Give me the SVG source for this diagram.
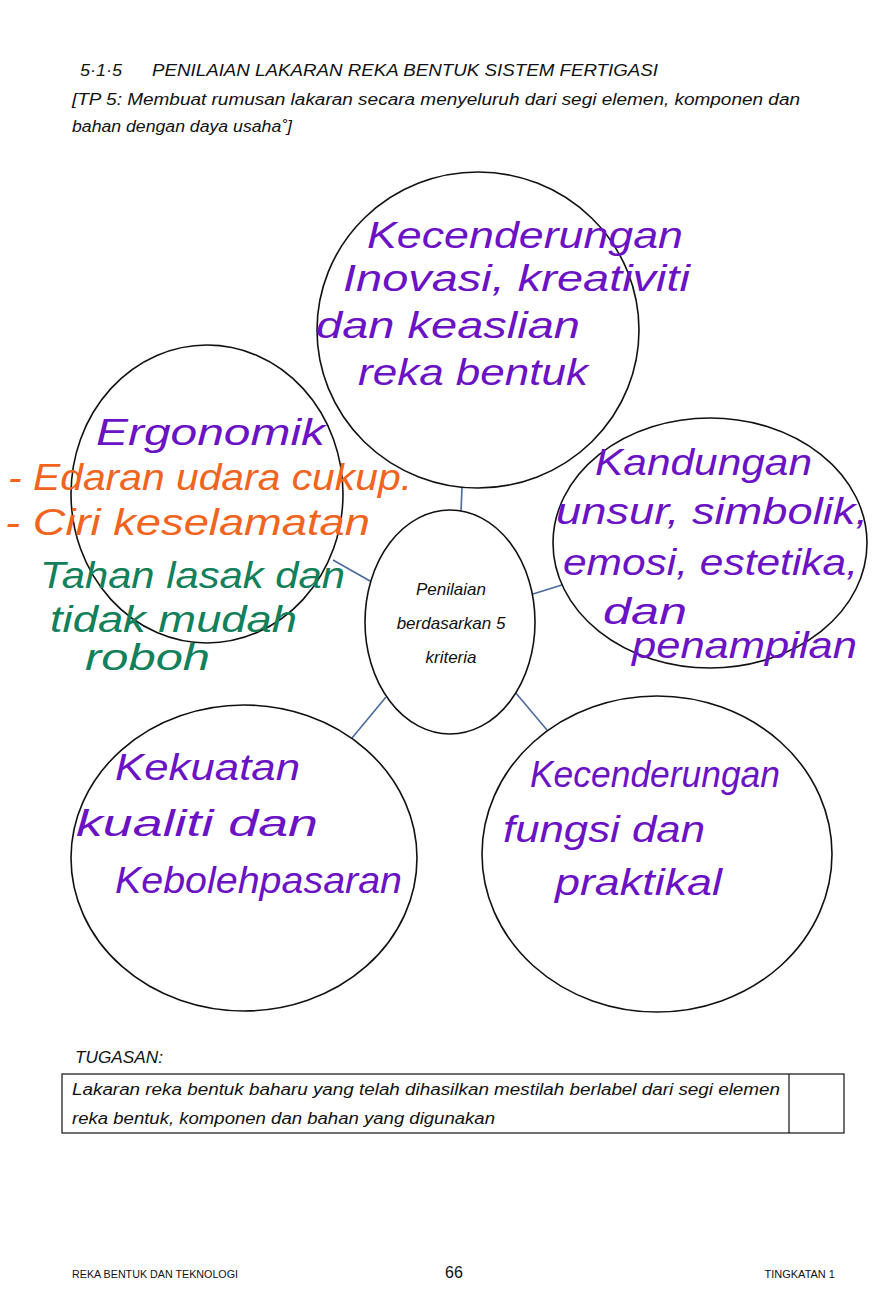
<svg xmlns="http://www.w3.org/2000/svg" width="889" height="1313" viewBox="0 0 889 1313">
<style>
.hd{font-family:"Liberation Sans",Arial,sans-serif;font-style:italic;font-size:16px;fill:#111}
.node{fill:#fff;stroke:#111;stroke-width:1.6}
.conn{stroke:#4a6a9c;stroke-width:1.6;fill:none}
.hw{font-family:"Liberation Sans",Arial,sans-serif;font-style:italic;font-size:36px}
.pu{fill:#6a12c4}
.or{fill:#f0641e}
.gr{fill:#12805a}
.ctr{font-family:"Liberation Sans",Arial,sans-serif;font-style:italic;font-size:17px;fill:#111;text-anchor:middle}
.ft{font-family:"Liberation Sans",Arial,sans-serif;font-size:11px;fill:#111}
</style>
<rect width="889" height="1313" fill="#fff"/>
<g id="header">
<text class="hd" x="80" y="76" textLength="42" lengthAdjust="spacingAndGlyphs">5·1·5</text>
<text class="hd" x="152" y="76" textLength="506" lengthAdjust="spacingAndGlyphs">PENILAIAN LAKARAN REKA BENTUK SISTEM FERTIGASI</text>
<text class="hd" x="72" y="105" textLength="728" lengthAdjust="spacingAndGlyphs">[TP 5: Membuat rumusan lakaran secara menyeluruh dari segi elemen, komponen dan</text>
<text class="hd" x="72" y="132" textLength="220" lengthAdjust="spacingAndGlyphs">bahan dengan daya usaha˚]</text>
</g>
<g id="connectors">
<line class="conn" x1="462" y1="488" x2="461" y2="511"/>
<line class="conn" x1="333" y1="560" x2="370" y2="581"/>
<line class="conn" x1="533" y1="594" x2="565" y2="584"/>
<line class="conn" x1="386" y1="697" x2="352" y2="738"/>
<line class="conn" x1="515" y1="692" x2="547" y2="730"/>
</g>
<g id="node-top">
<ellipse class="node" cx="478" cy="330" rx="161" ry="158"/>
<text class="hw pu" x="367" y="248" textLength="316" lengthAdjust="spacingAndGlyphs">Kecenderungan</text>
<text class="hw pu" x="343" y="291" textLength="347" lengthAdjust="spacingAndGlyphs">Inovasi, kreativiti</text>
<text class="hw pu" x="316" y="338" textLength="264" lengthAdjust="spacingAndGlyphs">dan keaslian</text>
<text class="hw pu" x="358" y="385" textLength="230" lengthAdjust="spacingAndGlyphs">reka bentuk</text>
</g>
<g id="node-left">
<ellipse class="node" cx="207" cy="494" rx="136" ry="149"/>
<text class="hw pu" x="96" y="445" textLength="229" lengthAdjust="spacingAndGlyphs">Ergonomik</text>
<text class="hw or" x="8" y="490" textLength="404" lengthAdjust="spacingAndGlyphs">- Edaran udara cukup.</text>
<text class="hw or" x="5" y="535" textLength="365" lengthAdjust="spacingAndGlyphs">- Ciri keselamatan</text>
<text class="hw gr" x="40" y="588" textLength="305" lengthAdjust="spacingAndGlyphs">Tahan lasak dan</text>
<text class="hw gr" x="50" y="632" textLength="247" lengthAdjust="spacingAndGlyphs">tidak mudah</text>
<text class="hw gr" x="85" y="670" textLength="125" lengthAdjust="spacingAndGlyphs">roboh</text>
</g>
<g id="node-right">
<ellipse class="node" cx="710" cy="543" rx="157" ry="125"/>
<text class="hw pu" x="595" y="475" textLength="217" lengthAdjust="spacingAndGlyphs">Kandungan</text>
<text class="hw pu" x="556" y="524" textLength="312" lengthAdjust="spacingAndGlyphs">unsur, simbolik,</text>
<text class="hw pu" x="563" y="575" textLength="295" lengthAdjust="spacingAndGlyphs">emosi, estetika,</text>
<text class="hw pu" x="603" y="624" textLength="84" lengthAdjust="spacingAndGlyphs">dan</text>
<text class="hw pu" x="632" y="658" textLength="225" lengthAdjust="spacingAndGlyphs">penampilan</text>
</g>
<g id="node-center">
<ellipse class="node" cx="450" cy="622" rx="85" ry="112"/>
<text class="ctr" x="451" y="595">Penilaian</text>
<text class="ctr" x="451" y="629">berdasarkan 5</text>
<text class="ctr" x="451" y="663">kriteria</text>
</g>
<g id="node-bottom-left">
<ellipse class="node" cx="244" cy="858" rx="173" ry="153"/>
<text class="hw pu" x="115" y="780" textLength="185" lengthAdjust="spacingAndGlyphs">Kekuatan</text>
<text class="hw pu" x="76" y="836" textLength="242" lengthAdjust="spacingAndGlyphs">kualiti dan</text>
<text class="hw pu" x="115" y="893" textLength="287" lengthAdjust="spacingAndGlyphs">Kebolehpasaran</text>
</g>
<g id="node-bottom-right">
<ellipse class="node" cx="657" cy="854" rx="175" ry="158"/>
<text class="hw pu" x="530" y="787" textLength="250" lengthAdjust="spacingAndGlyphs">Kecenderungan</text>
<text class="hw pu" x="503" y="842" textLength="202" lengthAdjust="spacingAndGlyphs">fungsi dan</text>
<text class="hw pu" x="555" y="895" textLength="167" lengthAdjust="spacingAndGlyphs">praktikal</text>
</g>
<g id="task">
<text class="hd" x="75" y="1063" textLength="88" lengthAdjust="spacingAndGlyphs">TUGASAN:</text>
<rect x="62" y="1074" width="782" height="59" fill="none" stroke="#111" stroke-width="1.2"/>
<line x1="789" y1="1074" x2="789" y2="1133" stroke="#111" stroke-width="1.2"/>
<text class="hd" x="72" y="1095" textLength="708" lengthAdjust="spacingAndGlyphs">Lakaran reka bentuk baharu yang telah dihasilkan mestilah berlabel dari segi elemen</text>
<text class="hd" x="72" y="1124" textLength="423" lengthAdjust="spacingAndGlyphs">reka bentuk, komponen dan bahan yang digunakan</text>
</g>
<g id="footer">
<text class="ft" x="72" y="1278" textLength="166" lengthAdjust="spacingAndGlyphs">REKA BENTUK DAN TEKNOLOGI</text>
<text x="454" y="1278" font-family="Liberation Sans, Arial, sans-serif" font-size="16" fill="#111" text-anchor="middle">66</text>
<text class="ft" x="835" y="1278" text-anchor="end">TINGKATAN 1</text>
</g>
</svg>
